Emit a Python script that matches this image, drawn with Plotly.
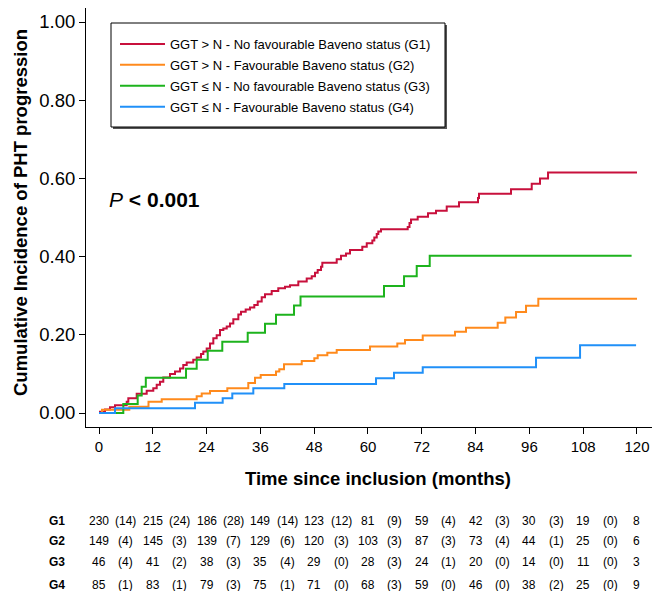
import plotly.graph_objects as go

# ---------------- data ----------------
g1_t = [0, 0.22, 1.34, 2.45, 3.57, 6.18, 6.54, 8.41, 10.64, 12.11, 12.87, 13.61, 14.34, 15.84, 16.95,
        18.07, 18.80, 19.56, 21.03, 21.79, 22.75, 23.27, 24.02, 24.76, 25.50, 26.25, 26.99, 27.73, 28.49,
        29.22, 29.96, 31.08, 31.68, 32.72, 33.68, 34.64, 35.40, 36.29, 37.03, 38.52, 39.99, 41.49, 42.61,
        44.46, 46.33, 47.45, 48.18, 48.78, 49.52, 49.81, 53.02, 53.98, 55.10, 55.99, 58.73, 59.72, 60.97,
        61.41, 61.95, 62.30, 62.90, 68.86, 69.26, 69.60, 71.09, 73.39, 75.17, 77.56, 80.30, 84.54, 84.76,
        91.90, 96.52, 98.37, 100.16, 120]
g1_v = [0, 0.003, 0.009, 0.015, 0.020, 0.029, 0.038, 0.049, 0.057, 0.063, 0.072, 0.080, 0.091, 0.100, 0.106,
        0.114, 0.123, 0.129, 0.136, 0.142, 0.151, 0.157, 0.165, 0.178, 0.191, 0.199, 0.212, 0.216, 0.221,
        0.229, 0.240, 0.252, 0.259, 0.265, 0.270, 0.276, 0.285, 0.296, 0.304, 0.312, 0.319, 0.323, 0.327,
        0.336, 0.344, 0.350, 0.359, 0.366, 0.374, 0.384, 0.393, 0.402, 0.408, 0.417, 0.425, 0.434, 0.441,
        0.449, 0.458, 0.464, 0.470, 0.476, 0.486, 0.495, 0.502, 0.511, 0.517, 0.528, 0.539, 0.550, 0.561,
        0.572, 0.586, 0.600, 0.615, 0.615]

g2_t = [0, 0.67, 6.76, 11.04, 13.99, 21.79, 22.91, 24.76, 28.62, 33.30, 34.80, 36.07, 39.48, 40.22, 41.27,
        45.22, 48.03, 48.78, 50.93, 53.02, 60.45, 66.54, 68.26, 72.21, 79.41, 81.86, 88.93, 90.63, 93.02,
        95.25, 97.99, 120]
g2_v = [0, 0.008, 0.016, 0.029, 0.035, 0.043, 0.050, 0.056, 0.063, 0.077, 0.090, 0.097, 0.106, 0.112, 0.125,
        0.133, 0.140, 0.148, 0.154, 0.161, 0.170, 0.178, 0.187, 0.198, 0.208, 0.218, 0.231, 0.244, 0.258,
        0.274, 0.292, 0.292]

g3_t = [0, 5.42, 8.63, 9.52, 10.44, 19.41, 21.79, 24.25, 27.50, 33.17, 37.03, 39.48, 43.50, 44.95, 63.57,
        68.04, 70.87, 73.77, 118.8]
g3_v = [0, 0.023, 0.045, 0.067, 0.090, 0.113, 0.136, 0.159, 0.182, 0.205, 0.228, 0.251, 0.275, 0.298, 0.325,
        0.350, 0.376, 0.402, 0.402]

g4_t = [0, 3.57, 21.41, 27.59, 29.73, 34.42, 41.33, 61.79, 65.80, 72.21, 97.48, 107.30, 119.8]
g4_v = [0, 0.012, 0.026, 0.038, 0.050, 0.063, 0.074, 0.089, 0.103, 0.117, 0.141, 0.173, 0.173]

series_names = ["GGT > N - No favourable Baveno status (G1)",
                "GGT > N - Favourable Baveno status (G2)",
                "GGT ≤ N - No favourable Baveno status (G3)",
                "GGT ≤ N - Favourable Baveno status (G4)"]
series_colors = ["#C8103C", "#FF8A1C", "#1DB31D", "#2090F8"]

x_ticks = [0, 12, 24, 36, 48, 60, 72, 84, 96, 108, 120]
y_ticks = [0.0, 0.2, 0.4, 0.6, 0.8, 1.0]

group_labels = ["G1", "G2", "G3", "G4"]
at_risk_g1 = [230, 215, 186, 149, 123, 81, 59, 42, 30, 19, 8]
at_risk_g2 = [149, 145, 139, 129, 120, 103, 87, 73, 44, 25, 6]
at_risk_g3 = [46, 41, 38, 35, 29, 28, 24, 20, 14, 11, 3]
at_risk_g4 = [85, 83, 79, 75, 71, 68, 59, 46, 38, 25, 9]
events_g1 = [14, 24, 28, 14, 12, 9, 4, 3, 3, 0]
events_g2 = [4, 3, 7, 6, 3, 3, 3, 4, 1, 0]
events_g3 = [4, 2, 3, 4, 0, 3, 1, 0, 0, 0]
events_g4 = [1, 1, 3, 1, 0, 3, 0, 0, 2, 0]

# ---------------- figure ----------------
FONT = "Liberation Sans, Arial, sans-serif"
W, H = 655, 591
ML, MR, MT, MB = 86, 3, 8, 164
PW, PH = W - ML - MR, H - MT - MB


def px_x(p):
    return (p - ML) / PW


def px_y(p):
    return (H - MB - p) / PH


fig = go.Figure()
for i, (t, v, name, col) in enumerate(zip([g1_t, g2_t, g3_t, g4_t], [g1_v, g2_v, g3_v, g4_v],
                                          series_names, series_colors)):
    fig.add_trace(go.Scatter(x=t, y=v, mode="lines", name=name, legendgroup="g%d" % i,
                             line=dict(color=col, width=2, shape="hv"), hoverinfo="skip"))

annotations = []
annotations.append(dict(text="<b>Cumulative Incidence of PHT progression</b>", xref="paper", yref="paper",
                        x=px_x(20), y=px_y(213), xanchor="center", yanchor="middle", textangle=-90,
                        showarrow=False, font=dict(family=FONT, size=18.5, color="black")))
annotations.append(dict(text="<b>Time since inclusion (months)</b>", xref="paper", yref="paper",
                        x=px_x(378), y=px_y(478), xanchor="center", yanchor="middle", showarrow=False,
                        font=dict(family=FONT, size=18.5, color="black")))
annotations.append(dict(text="<i>P</i> <b>&lt; 0.001</b>", xref="paper", yref="paper",
                        x=px_x(107), y=px_y(200), xanchor="left", yanchor="middle", showarrow=False,
                        font=dict(family=FONT, size=21, color="black")))

row_px = [521, 541, 562, 585]
at_risk_all = [at_risk_g1, at_risk_g2, at_risk_g3, at_risk_g4]
events_all = [events_g1, events_g2, events_g3, events_g4]
for lab, rp, ar, ev in zip(group_labels, row_px, at_risk_all, events_all):
    ry = px_y(rp)
    annotations.append(dict(text="<b>%s</b>" % lab, xref="paper", yref="paper", x=px_x(57), y=ry,
                            xanchor="center", yanchor="middle", showarrow=False,
                            font=dict(family=FONT, size=12, color="black")))
    for xt, n in zip(x_ticks, ar):
        annotations.append(dict(text=str(n), xref="x", yref="paper", x=xt, y=ry, xanchor="center",
                                yanchor="middle", showarrow=False,
                                font=dict(family=FONT, size=12, color="black")))
    for i, e in enumerate(ev):
        xm = (x_ticks[i] + x_ticks[i + 1]) / 2
        annotations.append(dict(text="(%d)" % e, xref="x", yref="paper", x=xm, y=ry, xanchor="center",
                                yanchor="middle", showarrow=False,
                                font=dict(family=FONT, size=12, color="black")))

shapes = [
    # legend shadow + frame
    dict(type="rect", xref="paper", yref="paper", x0=px_x(113), x1=px_x(447), y0=px_y(129), y1=px_y(25),
         line=dict(width=0), fillcolor="#555555", layer="below"),
    dict(type="rect", xref="paper", yref="paper", x0=px_x(111), x1=px_x(445), y0=px_y(127), y1=px_y(23),
         line=dict(width=1, color="black"), fillcolor="white", layer="below"),
]

fig.update_layout(
    width=W, height=H,
    margin=dict(l=ML, r=MR, t=MT, b=MB),
    paper_bgcolor="white", plot_bgcolor="white",
    font=dict(family=FONT, color="black"),
    showlegend=True,
    legend=dict(x=px_x(115), y=px_y(29), xanchor="left", yanchor="top",
                bgcolor="rgba(0,0,0,0)", borderwidth=0,
                font=dict(family=FONT, size=13, color="black"),
                itemwidth=45, tracegroupgap=1),
    annotations=annotations,
    shapes=shapes,
    xaxis=dict(range=[-2.9, 123.35], tickmode="array", tickvals=x_ticks, ticks="outside", ticklen=6,
               tickcolor="black", showline=True, linecolor="black", linewidth=1, showgrid=False,
               zeroline=False, tickfont=dict(family=FONT, size=15, color="black")),
    yaxis=dict(range=[-0.0358, 1.0358], tickmode="array", tickvals=y_ticks, tickformat=".2f",
               ticks="outside", ticklen=6, tickcolor="black", showline=True, linecolor="black",
               linewidth=1, showgrid=False, zeroline=False,
               tickfont=dict(family=FONT, size=18.5, color="black")),
)

fig.write_html("out.html", config={"displayModeBar": False},
               post_script="document.body.style.margin='0px';")
